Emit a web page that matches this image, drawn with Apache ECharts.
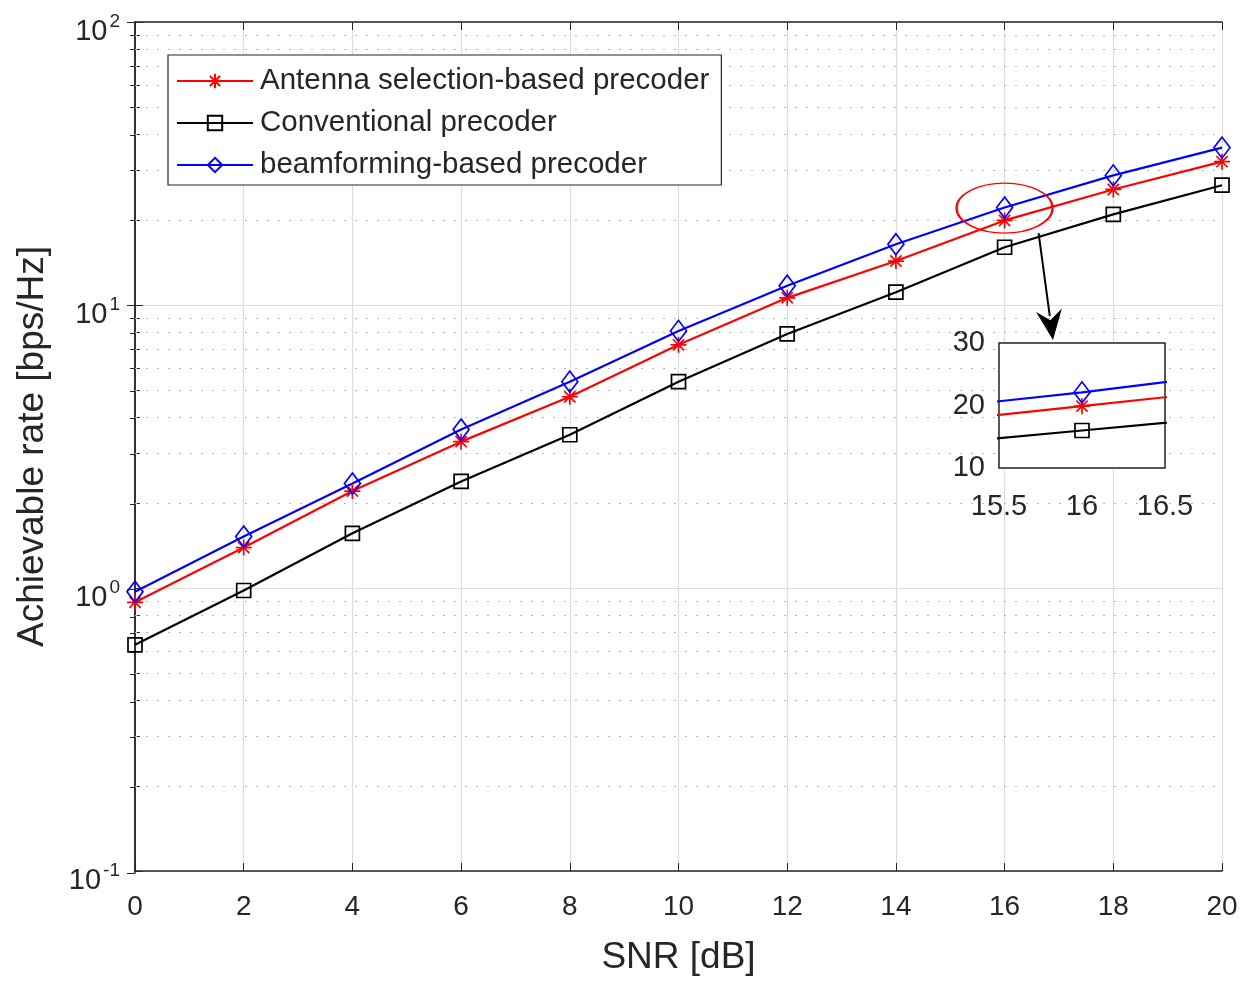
<!DOCTYPE html>
<html><head><meta charset="utf-8">
<script src="https://cdn.jsdelivr.net/npm/echarts@6/dist/echarts.min.js"></script>
<style>html,body{margin:0;padding:0;background:#fff}#c{width:1251px;height:981px}</style>
</head><body><div id="c"></div>
<script>
const snr = [0, 2, 4, 6, 8, 10, 12, 14, 16, 18, 20];
const antennaSel = [0.89, 1.39, 2.20, 3.29, 4.74, 7.23, 10.6, 14.3, 19.9, 25.6, 32.1];
const conventional = [0.63, 0.98, 1.56, 2.38, 3.48, 5.36, 7.9, 11.1, 16.0, 20.9, 26.5];
const beamforming = [0.97, 1.52, 2.34, 3.63, 5.36, 8.1, 11.7, 16.4, 22.1, 28.7, 36.0];
const names = ['Antenna selection-based precoder', 'Conventional precoder', 'beamforming-based precoder'];
const minorLog = [0.2,0.3,0.4,0.5,0.6,0.7,0.8,0.9,2,3,4,5,6,7,8,9,20,30,40,50,60,70,80,90];

const FONT = 'Liberation Sans';
const TXT = '#262626';
const STAR = 'path://M0,-10L0,10M-10,0L10,0M-7,-7L7,7M-7,7L7,-7';

function pair(a){ return snr.map((x,i)=>[x,a[i]]); }
const styles = [
  {color:'#ff0000', symbol: STAR, size: 16},
  {color:'#000000', symbol: 'rect', size: 14},
  {color:'#0000ff', symbol: 'diamond', size: [16, 21]},
];
const datas = [antennaSel, conventional, beamforming];

function mkSeries(k, xi, yi, extra){
  const s = styles[k];
  return Object.assign({
    name: names[k], type: 'line', data: pair(datas[k]),
    xAxisIndex: xi, yAxisIndex: yi, clip: true,
    symbol: s.symbol, symbolSize: s.size, showAllSymbol: true,
    lineStyle: {color: s.color, width: 2.2},
    itemStyle: {color: 'rgba(255,255,255,0)', borderColor: s.color, borderWidth: 1.7},
    emphasis: {disabled: true}, animation: false, z: 5
  }, extra||{});
}

const series = [];
for (let k=0;k<3;k++) series.push(mkSeries(k,0,0));
// minor dotted grid lines on log axis
series.push({type:'line', data:[], xAxisIndex:0, yAxisIndex:0, silent:true, z:1,
  markLine:{symbol:'none', silent:true, animation:false, label:{show:false},
    lineStyle:{color:'#b8b8b8', type:[2,9], width:1.2},
    data: minorLog.map(v=>({yAxis:v}))}});
for (let k=0;k<3;k++) series.push(mkSeries(k,2,2,{z:20}));

const sup = v => { const e = Math.round(Math.log10(v)); return '{b|10}{s|' + e + '}'; };

const option = {
  animation: false,
  backgroundColor: '#fff',
  textStyle: {fontFamily: FONT},
  grid: [
    {left: 135, right: 29, top: 22, bottom: 108, show: false},
    {left: 135, right: 29, top: 22, bottom: 108, show: false},
    {left: 999, top: 343, width: 166, height: 125, show: true, backgroundColor: '#fff', borderColor: '#262626', borderWidth: 1.5, z: 10}
  ],
  legend: {
    left: 168, top: 55, orient: 'vertical', itemGap: 12, itemWidth: 76, itemHeight: 18,
    padding: [11, 12, 5, 8], backgroundColor: '#fff', borderColor: '#262626', borderWidth: 1.2,
    textStyle: {fontSize: 29.5, color: TXT, fontFamily: FONT, padding:[0,0,0,2]}, data: names, z: 30
  },
  xAxis: [
    {type:'value', gridIndex:0, min:0, max:20, interval:2, position:'bottom',
     name:'SNR [dB]', nameLocation:'middle', nameGap:68,
     nameTextStyle:{fontSize:37, color:TXT, fontFamily:FONT},
     axisLine:{lineStyle:{color:TXT, width:1.5}},
     axisTick:{inside:true, length:8, lineStyle:{color:TXT}},
     axisLabel:{fontSize:28, color:TXT, margin:22, fontFamily:FONT},
     splitLine:{show:true, lineStyle:{color:'#dcdcdc', width:1.2}}},
    {type:'value', gridIndex:1, min:0, max:20, interval:2, position:'top',
     axisLine:{lineStyle:{color:TXT, width:1.5}},
     axisTick:{inside:true, length:8, lineStyle:{color:TXT}},
     axisLabel:{show:false}, splitLine:{show:false}},
    {type:'value', gridIndex:2, min:15.5, max:16.5, interval:0.5,
     axisLine:{show:false},
     axisTick:{show:false},
     axisLabel:{fontSize:29, color:TXT, margin:24, fontFamily:FONT},
     splitLine:{show:true, lineStyle:{color:'#dcdcdc', width:1.5}}}
  ],
  yAxis: [
    {type:'log', gridIndex:0, min:0.1, max:100, logBase:10,
     name:'Achievable rate [bps/Hz]', nameLocation:'middle', nameGap:84,
     nameTextStyle:{fontSize:37, color:TXT, fontFamily:FONT},
     axisLine:{lineStyle:{color:TXT, width:1.5}},
     axisTick:{inside:true, length:8, lineStyle:{color:TXT}},
     minorTick:{show:true, splitNumber:9, length:5, lineStyle:{color:TXT}},
     axisLabel:{margin:15, formatter: sup, fontFamily:FONT,
       rich:{b:{fontSize:29, color:TXT, fontFamily:FONT, padding:[20,0,0,0]},
             s:{fontSize:19, color:TXT, fontFamily:FONT, padding:[0,0,0,2]}}},
     splitLine:{show:true, lineStyle:{color:'#dcdcdc', width:1.2}}},
    {type:'log', gridIndex:1, min:0.1, max:100, logBase:10, position:'right',
     axisLine:{lineStyle:{color:TXT, width:1.5}},
     axisTick:{inside:true, length:8, lineStyle:{color:TXT}},
     minorTick:{show:true, splitNumber:9, length:5, lineStyle:{color:TXT}},
     axisLabel:{show:false}, splitLine:{show:false}},
    {type:'value', gridIndex:2, min:10, max:30, interval:10,
     axisLine:{show:false}, axisTick:{show:false},
     axisLabel:{fontSize:29, color:TXT, margin:14, fontFamily:FONT},
     splitLine:{show:true, lineStyle:{color:'#dcdcdc', width:1.5}}}
  ],
  series: series
};

const chart = echarts.init(document.getElementById('c'), null, {renderer:'canvas'});
chart.setOption(option);

// annotation: ellipse around the SNR=16 points and arrow to the inset
const c = chart.convertToPixel({xAxisIndex:0, yAxisIndex:0}, [16, 22]);
const insetTop = chart.convertToPixel({xAxisIndex:2, yAxisIndex:2}, [16, 30]);
const a0 = [c[0] + 34, c[1] + 25];
const a1 = [insetTop[0] - 29, insetTop[1] - 3];
const dx = a1[0]-a0[0], dy = a1[1]-a0[1], L = Math.hypot(dx,dy), ux = dx/L, uy = dy/L;
const hl = 30, hw = 13;
const base = [a1[0]-ux*hl, a1[1]-uy*hl];
chart.setOption({graphic: [
  {type:'circle', shape:{cx:0, cy:0, r:25}, x:c[0], y:c[1], scaleX:1.92, scaleY:1,
   style:{fill:'none', stroke:'#ff0000', lineWidth:1.2}, z:50, silent:true},
  {type:'line', shape:{x1:a0[0], y1:a0[1], x2:base[0]+ux*6, y2:base[1]+uy*6},
   style:{stroke:'#000', lineWidth:2}, z:50, silent:true},
  {type:'polygon', shape:{points:[a1, [base[0]-uy*hw, base[1]+ux*hw], [base[0]+ux*10, base[1]+uy*10], [base[0]+uy*hw, base[1]-ux*hw]]},
   style:{fill:'#000'}, z:50, silent:true}
]});
</script>
</body></html>
